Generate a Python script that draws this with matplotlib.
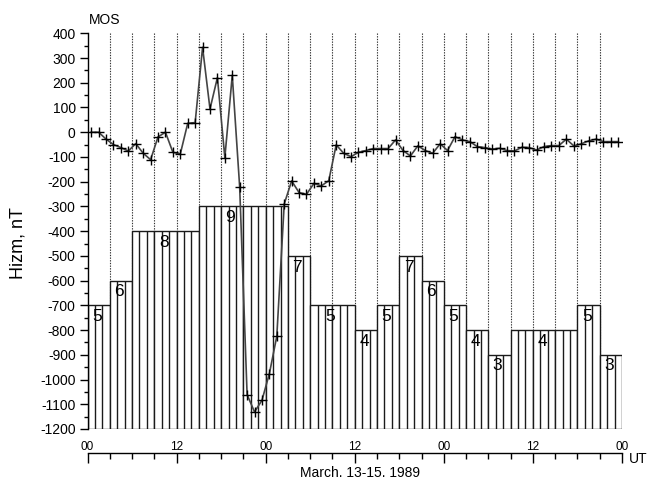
import matplotlib
matplotlib.use("Agg")
import matplotlib.pyplot as plt
from matplotlib.ticker import MultipleLocator, FixedLocator, FixedFormatter
import numpy as np

plt.rcParams['font.family'] = ['Liberation Sans', 'DejaVu Sans']
plt.rcParams['axes.unicode_minus'] = False

# ---- data ----
# Kp index per 3-hour interval, March 13-15, 1989 (24 intervals)
kp = [5, 6, 8, 8, 8, 9, 9, 9, 9, 7, 5, 5, 4, 5, 7, 6, 5, 4, 3, 4, 4, 4, 5, 3]
# Hourly H variation at MOS (nT), 72 values plotted at half-hour marks
h_values = [0, 0, -28, -50, -62, -76, -46, -85, -111, -19, 0, -81, -88, 36, 39,
            343, 94, 221, -103, 230, -222, -1061, -1131, -1084, -976, -825, -290,
            -197, -244, -251, -207, -217, -196, -51, -85, -99, -81, -74, -66, -66,
            -66, -31, -74, -96, -55, -74, -85, -47, -74, -18, -31, -38, -58, -62,
            -68, -65, -74, -76, -61, -62, -72, -58, -54, -54, -28, -55, -47, -35,
            -28, -38, -38, -38]
x_tick_hours = [0, 12, 24, 36, 48, 60, 72]
x_tick_labels = ['00', '12', '00', '12', '00', '12', '00']
station = 'MOS'
ylabel = 'Hizm, nT'
xlabel = 'March. 13-15. 1989'

KP_BASE = -1200   # H-axis level of Kp = 0
KP_SCALE = 100    # H-axis units per Kp unit
INTERVAL = 3      # hours per Kp interval

# ---- figure ----
W, H = 650, 480
fig = plt.figure(figsize=(W / 100, H / 100), dpi=100)
L, R, T, B = 87.5, 622, 33.3, 429
ax = fig.add_axes([L / W, 1 - B / H, (R - L) / W, (B - T) / H])
ax.set_xlim(0, INTERVAL * len(kp))
ax.set_ylim(-1200, 400)

levels = [KP_BASE + KP_SCALE * k for k in kp]
n_int = len(kp)
edges = np.arange(n_int) * INTERVAL

# dotted grid at interval boundaries
for e in edges[1:]:
    ax.axvline(e, color='#333333', lw=0.8, ls=(0, (1.2, 1.2)), zorder=0)

# bars (white filled, black outline)
ax.bar(edges, [lv - KP_BASE for lv in levels], bottom=KP_BASE, width=INTERVAL,
       align='edge', facecolor='white', edgecolor='#1a1a1a', lw=1.0, zorder=1)

# hourly vertical lines inside bars
for i, lv in enumerate(levels):
    for j in range(1, INTERVAL):
        ax.plot([edges[i] + j, edges[i] + j], [KP_BASE, lv], color='#1a1a1a',
                lw=1.0, zorder=2, solid_capstyle='butt')

# Kp labels, one per group of equal values
i = 0
while i < n_int:
    j = i
    while j + 1 < n_int and kp[j + 1] == kp[i]:
        j += 1
    cx = (edges[i] + edges[j] + INTERVAL) / 2 - 0.25
    if kp[i] == 9:
        cx -= 1.5
    ax.text(cx, levels[i] - 45, str(kp[i]), ha='center', va='center',
            fontsize=12.5, color='black', zorder=3)
    i = j + 1

# H curve
hours = np.arange(len(h_values)) + 0.5
ax.plot(hours, h_values, color='#444444', lw=1.2, zorder=4,
        marker='+', markersize=7, markeredgecolor='black', markeredgewidth=1.0)

# axes styling
for s in ['top', 'right']:
    ax.spines[s].set_visible(False)
ax.spines['left'].set_linewidth(1.0)
ax.spines['bottom'].set_linewidth(1.0)
ax.spines['bottom'].set_position(('outward', 17.3))

ax.yaxis.set_major_locator(MultipleLocator(100))
ax.yaxis.set_minor_locator(MultipleLocator(50))
ax.tick_params(axis='y', which='major', direction='out', length=5.5, width=1.0,
               labelsize=10, pad=3)
ax.tick_params(axis='y', which='minor', direction='out', length=3, width=1.0)

ax.xaxis.set_major_locator(FixedLocator(x_tick_hours))
ax.xaxis.set_major_formatter(FixedFormatter(x_tick_labels))
ax.xaxis.set_minor_locator(MultipleLocator(INTERVAL))
ax.tick_params(axis='x', which='major', direction='out', length=7, width=1.0,
               labelsize=8.5, pad=-16)
ax.tick_params(axis='x', which='minor', direction='out', length=4.3, width=1.0)

ax.set_ylabel(ylabel, fontsize=13)
ax.yaxis.label.set_verticalalignment('center')
ax.yaxis.set_label_coords((18 - L) / (R - L), (B - 243) / (B - T))

ax.set_xlabel(xlabel, fontsize=10)
ax.xaxis.label.set_verticalalignment('center')
ax.xaxis.set_label_coords((360 - L) / (R - L), (B - 473) / (B - T))

fig.text(89 / W, 1 - 20 / H, station, fontsize=10, ha='left', va='center')
fig.text(629 / W, 1 - 459 / H, 'UT', fontsize=10, ha='left', va='center')

fig.savefig('out.png', dpi=100)
